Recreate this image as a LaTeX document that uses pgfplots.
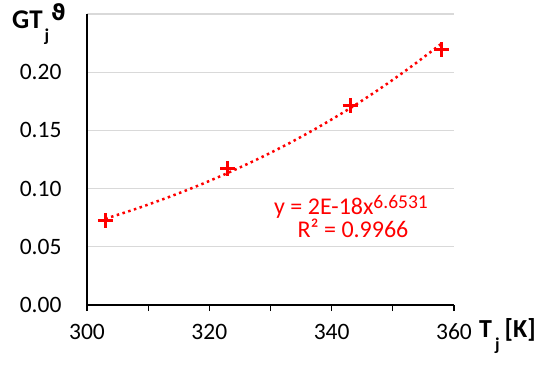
\documentclass[border=0pt]{standalone}
\usepackage{fontspec}
\setmainfont{Carlito}
\newfontfamily\symfont{DejaVu Sans}
\usepackage{pgfplots}
\pgfplotsset{compat=1.18}
\definecolor{gridgray}{RGB}{217,217,217}
\definecolor{xlred}{RGB}{255,0,0}

\begin{document}
\begin{tikzpicture}
\begin{axis}[
    at={(87pt,63pt)}, anchor=south west,
    scale only axis, width=367pt, height=291pt,
    xmin=300, xmax=360, ymin=0, ymax=0.25,
    axis x line*=bottom, axis y line*=left,
    axis line style={-, line width=1.3pt, black},
    xtick={300,320,340,360}, minor xtick={310,330,350},
    ytick={0,0.05,0.10,0.15,0.20,0.25},
    yticklabels={0.00,0.05,0.10,0.15,0.20,{}},
    tick align=outside,
    major tick length=6pt, minor tick length=6pt,
    xtick style={line width=1.3pt, black},
    ytick style={draw=none},
    ymajorgrids, grid style={line width=1.3pt, gridgray},
    /pgf/number format/assume math mode=true,
    ticklabel style={font=\fontsize{23.5}{28}\selectfont},
    yticklabel style={xshift=-16pt},
    xticklabel style={yshift=-9.5pt},
    clip=false
]
% trendline (power fit y = 2E-18 x^6.6531)
\addplot[xlred, line width=2.5pt, dash pattern=on 2.5pt off 3.5pt, smooth] coordinates {
    (303,0.0741)(308,0.0826)(313,0.0920)(318,0.1022)(323,0.1134)(328,0.1256)
    (333,0.1388)(338,0.1533)(343,0.1690)(348,0.1862)(353,0.2048)(358,0.2247)
};
\addplot[xlred, only marks, mark=+, mark size=7.5pt, line width=3pt] coordinates {
    (303,0.0722)(323,0.1174)(343,0.1716)(358,0.2193)
};
\end{axis}
% axis titles
\node[anchor=base west, inner sep=0pt, font=\fontsize{27}{32}\selectfont\bfseries]
    at (12pt,339.5pt) {GT\hspace{2pt}\raisebox{-13pt}{\fontsize{18}{21}\selectfont j}\hspace{2pt}\raisebox{8.5pt}{\fontsize{22}{26}\selectfont\symfont\bfseries ϑ}};
\node[anchor=base west, inner sep=0pt, font=\fontsize{26}{31}\selectfont\bfseries]
    at (479pt,31pt) {T\hspace{3pt}\raisebox{-13pt}{\fontsize{18}{21}\selectfont j}\hspace{5pt}[K]};
% trendline label
\node[anchor=base, inner sep=0pt, text=xlred, align=center,
      font=\fontsize{24}{22}\selectfont]
    at (351pt,131pt) {y = 2E-18x\raisebox{6pt}{\fontsize{19.5}{22}\selectfont 6.6531}\\[-0.5pt]
                      \hspace*{4pt}R² = 0.9966};
\pgfresetboundingbox
\path[use as bounding box] (0,0) rectangle (550pt,368pt);
\end{tikzpicture}
\end{document}
